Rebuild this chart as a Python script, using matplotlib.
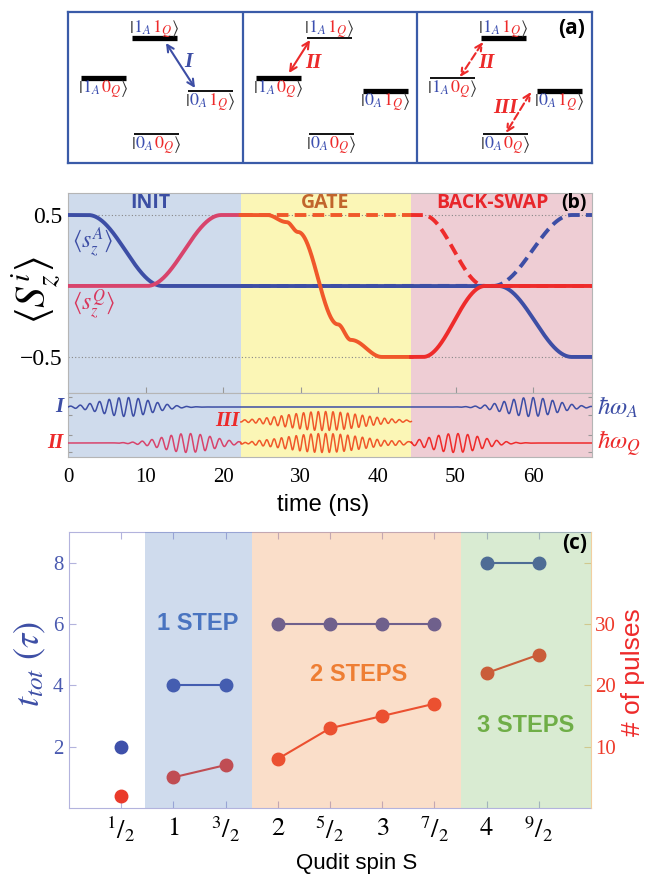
import numpy as np
import matplotlib
matplotlib.use("Agg")
import matplotlib.pyplot as plt

plt.rcParams['mathtext.fontset'] = 'stix'
plt.rcParams['font.family'] = ['DejaVu Sans']

# ---------------- data ----------------
# panel (a): level energies (pixel rows) and which levels are populated (thick)
states = ['11', '10', '01', '00']
state_rows = [38, 78, 91, 134]
state_cols = [(64, 109), (13, 58), (120, 165), (66, 111)]
thick_levels = [[True, True, False, False],
                [False, True, True, False],
                [True, False, True, False]]

# panel (b): phases
phase_names = ['INIT', 'GATE', 'BACK-SWAP']
phase_edges = [0.0, 22.3, 44.3, 67.6]
# <s_z> curves: knots (time ns, value)
blueA_t = [0, 2.6, 12.2, 55.5, 65.0, 67.6]
blueA_v = [0.5, 0.5, 0.0, 0.0, -0.5, -0.5]
redQ_t = [0, 10.2, 19.8, 25.7, 28.2, 29.7, 34.8, 36.5, 40.5, 45.8, 53.8, 67.6]
redQ_v = [0.0, 0.0, 0.5, 0.5, 0.45, 0.38, -0.27, -0.38, -0.5, -0.5, 0.0, 0.0]
blueA_dash_t = [22.3, 54.8, 65.0, 67.6]
blueA_dash_v = [0.0, 0.0, 0.5, 0.5]
redQ_dash_t = [22.3, 45.8, 53.8, 67.6]
redQ_dash_v = [0.5, 0.5, 0.0, 0.0]
# pulses: centers (ns), widths (ns), amplitude, period (ns)
pulseI_centers = [7.5, 59.7]
pulseII_centers = [15.5, 50.0]
pulse_sigma = 3.3
pulse_amp = 9.5
pulse_period = 1.25
gate_center = 33.0
gate_sigma = 5.0
gate_period = 0.95

# panel (c)
spin = [0.5, 1, 1.5, 2, 2.5, 3, 3.5, 4, 4.5]
spin_labels = [r'$^{1}/_{2}$', r'$1$', r'$^{3}/_{2}$', r'$2$', r'$^{5}/_{2}$',
               r'$3$', r'$^{7}/_{2}$', r'$4$', r'$^{9}/_{2}$']
t_tot = [2, 4, 4, 6, 6, 6, 6, 8, 8]
n_pulses = [2, 5, 7, 8, 13, 15, 17, 22, 25]
groups = [(0, 1), (1, 3), (3, 7), (7, 9)]
step_names = ['1 STEP', '2 STEPS', '3 STEPS']
step_edges = [0.73, 1.75, 3.75, 5.0]

# ---------------- figure ----------------
W, H = 646, 874
fig = plt.figure(figsize=(W / 100, H / 100), dpi=100)


def rect(x0, y0, x1, y1):
    return [x0 / W, 1 - y1 / H, (x1 - x0) / W, (y1 - y0) / H]


BLUE = '#3d4ea5'
RED = '#ec2a2a'
RED_PHASE = ['#d8446c', '#f0582a', '#ee2b2b']
renderer = fig.canvas.get_renderer()

# ---------------- panel (a) ----------------
axA = fig.add_axes(rect(68, 12, 592, 163))
axA.set_xlim(68, 592)
axA.set_ylim(163, 12)
axA.set_xticks([])
axA.set_yticks([])
for s in axA.spines.values():
    s.set_color('#3a5ba8')
    s.set_linewidth(1.6)
panel_left = [68, 243, 417]
for xd in panel_left[1:]:
    axA.plot([xd, xd], [12, 163], color='#3a5ba8', lw=1.6)


def colored_label(ax, xc, y, pieces, size=13):
    texts = []
    widths = []
    for s, c in pieces:
        t = ax.text(0, y, s, fontsize=size, color=c, ha='left', va='baseline')
        texts.append(t)
        widths.append(t.get_window_extent(renderer).width)
    total = sum(widths)
    x = xc - total / 2
    for t, w in zip(texts, widths):
        t.set_x(x)
        x += w * 0.98


for p, x0 in enumerate(panel_left):
    for k, st in enumerate(states):
        a, b = state_cols[k]
        yrow = state_rows[k]
        lw = 3.8 if thick_levels[p][k] else 1.3
        axA.plot([x0 + a, x0 + b], [yrow, yrow], color='black', lw=lw,
                 solid_capstyle='butt')
        pieces = [(r'$|$', '#333333'), (r'$%s_A$' % st[0], '#3d50b0'),
                  (r'$%s_Q$' % st[1], '#ee2a2a'), (r'$\rangle$', '#333333')]
        if k == 0:
            colored_label(axA, x0 + (a + b) / 2, yrow - 5, pieces)
        else:
            colored_label(axA, x0 + (a + b) / 2, yrow + 15, pieces)


def arrow(ax, p0, p1, color, dashed=False):
    ax.annotate('', xy=p1, xytext=p0,
                arrowprops=dict(arrowstyle='<->', color=color, lw=1.5,
                                linestyle='--' if dashed else '-',
                                mutation_scale=12, shrinkA=0, shrinkB=0))


arrow(axA, (166, 43), (195, 88), BLUE)
arrow(axA, (310, 40), (289, 73), RED)
arrow(axA, (483, 42), (460, 77), RED, dashed=True)
arrow(axA, (531, 92), (506, 133), RED, dashed=True)
rom = dict(family='Liberation Serif', style='italic', weight='bold', fontsize=15)
axA.text(188, 62, 'I', color=BLUE, ha='center', va='center', **rom)
axA.text(313, 63, 'II', color=RED, ha='center', va='center', **rom)
axA.text(486, 63, 'II', color=RED, ha='center', va='center', **rom)
axA.text(505, 108, 'III', color=RED, ha='center', va='center', **rom)
axA.text(572, 29, '(a)', fontsize=15, weight='bold', family='Open Sans',
         ha='center', va='center')

# ---------------- panel (b) ----------------
phase_colors = ['#cfdbec', '#fbf6b6', '#eecdd4']
phase_text_colors = ['#3b4ea3', '#c1652c', '#e8262b']
phase_text_x = [10.6, 33.2, 54.7]

axU = fig.add_axes(rect(68, 193, 592, 393))
axL = fig.add_axes(rect(68, 393, 592, 457))
for ax in (axU, axL):
    ax.set_xlim(phase_edges[0], phase_edges[-1])
    for i in range(3):
        ax.axvspan(phase_edges[i], phase_edges[i + 1], color=phase_colors[i],
                   lw=0, zorder=0)
    for s in ax.spines.values():
        s.set_color('#b5b5b5')
        s.set_linewidth(0.8)

axU.set_ylim(-0.754, 0.655)
tt = np.linspace(0, 67.6, 3000)


def knot_curve(tk, vk, t):
    tk = np.asarray(tk, float)
    vk = np.asarray(vk, float)
    t = t[(t >= tk[0]) & (t <= tk[-1])]
    i = np.clip(np.searchsorted(tk, t, side='right') - 1, 0, len(tk) - 2)
    s = (t - tk[i]) / (tk[i + 1] - tk[i])
    w = (1 - np.cos(np.pi * s)) / 2
    return t, vk[i] + (vk[i + 1] - vk[i]) * w


def plot_phased(ax, x, y, colors, **kw):
    for i in range(3):
        m = (x >= phase_edges[i] - 0.03) & (x <= phase_edges[i + 1] + 0.03)
        if m.sum() > 1:
            ax.plot(x[m], y[m], color=colors[i], **kw)


for lev in (0.5, -0.5):
    axU.axhline(lev, color='#888888', lw=0.8, ls=(0, (1, 2)), zorder=1)

x, y = knot_curve(redQ_dash_t, redQ_dash_v, tt)
plot_phased(axU, x, y, RED_PHASE, lw=2.8, ls=(0, (3, 1.6)), zorder=2)
x, y = knot_curve(blueA_dash_t, blueA_dash_v, tt)
axU.plot(x, y, color=BLUE, lw=2.8, ls=(0, (3, 1.6)), zorder=2)
x, y = knot_curve(blueA_t, blueA_v, tt)
axU.plot(x, y, color=BLUE, lw=2.8, zorder=3)
x, y = knot_curve(redQ_t, redQ_v, tt)
plot_phased(axU, x, y, RED_PHASE, lw=2.8, zorder=4)

axU.set_yticks([0.5, -0.5])
axU.set_yticklabels(['0.5', '\u22120.5'], family='Liberation Serif', fontsize=17)
axU.tick_params(axis='y', length=0, pad=4)
axU.set_xticks([10, 20, 30, 40, 50, 60])
axU.set_xticklabels([])
axU.tick_params(axis='x', direction='in', length=4, color='#999999')

for i in range(3):
    axU.text(phase_text_x[i], 0.585, phase_names[i], color=phase_text_colors[i],
             fontsize=14, weight='bold', family='Open Sans', ha='center',
             va='center')
axU.text(65.3, 0.585, '(b)', fontsize=14, weight='bold', family='Open Sans',
         ha='center', va='center')
axU.text(0.5, 0.31, r'$\langle s_z^A\rangle$', color=BLUE, fontsize=17,
         ha='left', va='center')
axU.text(0.5, -0.13, r'$\langle s_z^Q\rangle$', color='#d8365c', fontsize=17,
         ha='left', va='center')
fig.text(36 / W, 1 - 290 / H, r'$\langle S_z^i\rangle$', fontsize=30,
         rotation=90, ha='center', va='center')

# pulses
rowI, rowIII, rowII = 50, 36, 14
axL.set_ylim(0, 64)
pt = np.linspace(0, 67.6, 6000)
sigI = np.zeros_like(pt)
for c in pulseI_centers:
    sigI += pulse_amp * np.exp(-(pt - c) ** 2 / (2 * pulse_sigma ** 2)) * \
        np.sin(2 * np.pi * (pt - c) / pulse_period)
sigII = np.zeros_like(pt)
for c in pulseII_centers:
    sigII += pulse_amp * np.exp(-(pt - c) ** 2 / (2 * pulse_sigma ** 2)) * \
        np.sin(2 * np.pi * (pt - c) / pulse_period)
gmask = (pt >= phase_edges[1]) & (pt <= phase_edges[2])
gate_sig = pulse_amp * np.exp(-(pt - gate_center) ** 2 / (2 * gate_sigma ** 2)) * \
    np.sin(2 * np.pi * (pt - gate_center) / gate_period)
sigII = sigII + np.where(gmask, gate_sig, 0.0)
axL.plot(pt, rowI + sigI, color=BLUE, lw=1.1, zorder=3)
plot_phased(axL, pt, rowII + sigII, RED_PHASE, lw=1.1, zorder=3)
axL.plot(pt[gmask], rowIII + gate_sig[gmask], color=RED_PHASE[1], lw=1.1,
         zorder=3)

axL.set_yticks([60, 42, 22, 5])
axL.set_yticklabels([])
axL.tick_params(axis='y', direction='in', length=3, color='#999999',
                left=True, right=True)
axL.set_xticks([0, 10, 20, 30, 40, 50, 60])
axL.set_xticklabels(['0', '10', '20', '30', '40', '50', '60'],
                    family='Liberation Serif', fontsize=15)
axL.tick_params(axis='x', length=0, pad=8)
axL.text(-0.6, rowI, 'I', color=BLUE, ha='right', va='center', **rom)
axL.text(-0.6, rowII, 'II', color=RED, ha='right', va='center', **rom)
axL.text(22.1, rowIII, 'III', color=RED, ha='right', va='center', **rom)
fig.text(597 / W, 1 - 407 / H, r'$\hbar\omega_A$', color=BLUE, fontsize=18,
         ha='left', va='center')
fig.text(597 / W, 1 - 444 / H, r'$\hbar\omega_Q$', color=RED, fontsize=18,
         ha='left', va='center')
fig.text(323 / W, 1 - 505 / H, 'time (ns)', fontsize=17,
         family='Liberation Sans', ha='center', va='center')

# ---------------- panel (c) ----------------
axC = fig.add_axes(rect(69, 532, 591, 808))
axR = axC.twinx()
axC.set_xlim(0, 5)
axC.set_ylim(0, 9)
axR.set_ylim(0, 45)

for g0, g1 in groups:
    axC.plot(spin[g0:g1], t_tot[g0:g1], '-o', color='#3e50aa', lw=1.5, ms=9,
             zorder=3)
    axR.plot(spin[g0:g1], n_pulses[g0:g1], '-o', color='#ea3a2a', lw=1.5, ms=9,
             zorder=3)

step_fill = ['#5580c0', '#f08a40', '#78b860']
step_text_colors = ['#4a74c0', '#ee7e33', '#6fae47']
step_text_pos = [(1.23, 30.0), (2.77, 21.7), (4.37, 13.5)]
for i in range(3):
    axR.axvspan(step_edges[i], step_edges[i + 1], color=step_fill[i],
                alpha=0.28, lw=0, zorder=5)
    axR.text(step_text_pos[i][0], step_text_pos[i][1], step_names[i],
             color=step_text_colors[i], fontsize=17, weight='bold',
             family='Liberation Sans', ha='center', va='center', zorder=6)
axR.text(4.84, 43.2, '(c)', fontsize=15, weight='bold', family='Open Sans',
         ha='center', va='center', zorder=6)

axC.set_xticks(spin)
axC.set_xticklabels(spin_labels, fontsize=19)
axC.tick_params(axis='x', direction='in', length=5, color='#b3b3dd',
                top=True, pad=5)
axC.set_yticks([2, 4, 6, 8])
axC.set_yticklabels(['2', '4', '6', '8'], family='Liberation Serif',
                    fontsize=15)
axC.tick_params(axis='y', direction='in', length=5, color='#b3b3dd',
                labelcolor='#4a5ab0', pad=4)
axR.set_yticks([10, 20, 30, 40])
axR.set_yticklabels(['10', '20', '30', ''], family='Liberation Serif',
                    fontsize=15)
axR.tick_params(axis='y', direction='in', length=5, color='#f2cfa0',
                labelcolor='#ee3b2b', pad=3)
for nm in ('left', 'bottom', 'top'):
    axC.spines[nm].set_color('#b3b3dd')
axC.spines['right'].set_visible(False)
for nm in ('left', 'bottom', 'top'):
    axR.spines[nm].set_visible(False)
axR.spines['right'].set_color('#f2cfa0')

fig.text(30 / W, 1 - 664 / H, r'$t_{tot}\ (\tau)$', color='#3d4ea5',
         fontsize=26, rotation=90, ha='center', va='center')
fig.text(633 / W, 1 - 672 / H, '# of pulses', color='#ee2a2a', fontsize=19,
         family='Liberation Sans', rotation=90, ha='center', va='center')
fig.text(357 / W, 1 - 863 / H, 'Qudit spin S', fontsize=16,
         family='Liberation Sans', ha='center', va='center')

fig.savefig('out.png', dpi=100)
